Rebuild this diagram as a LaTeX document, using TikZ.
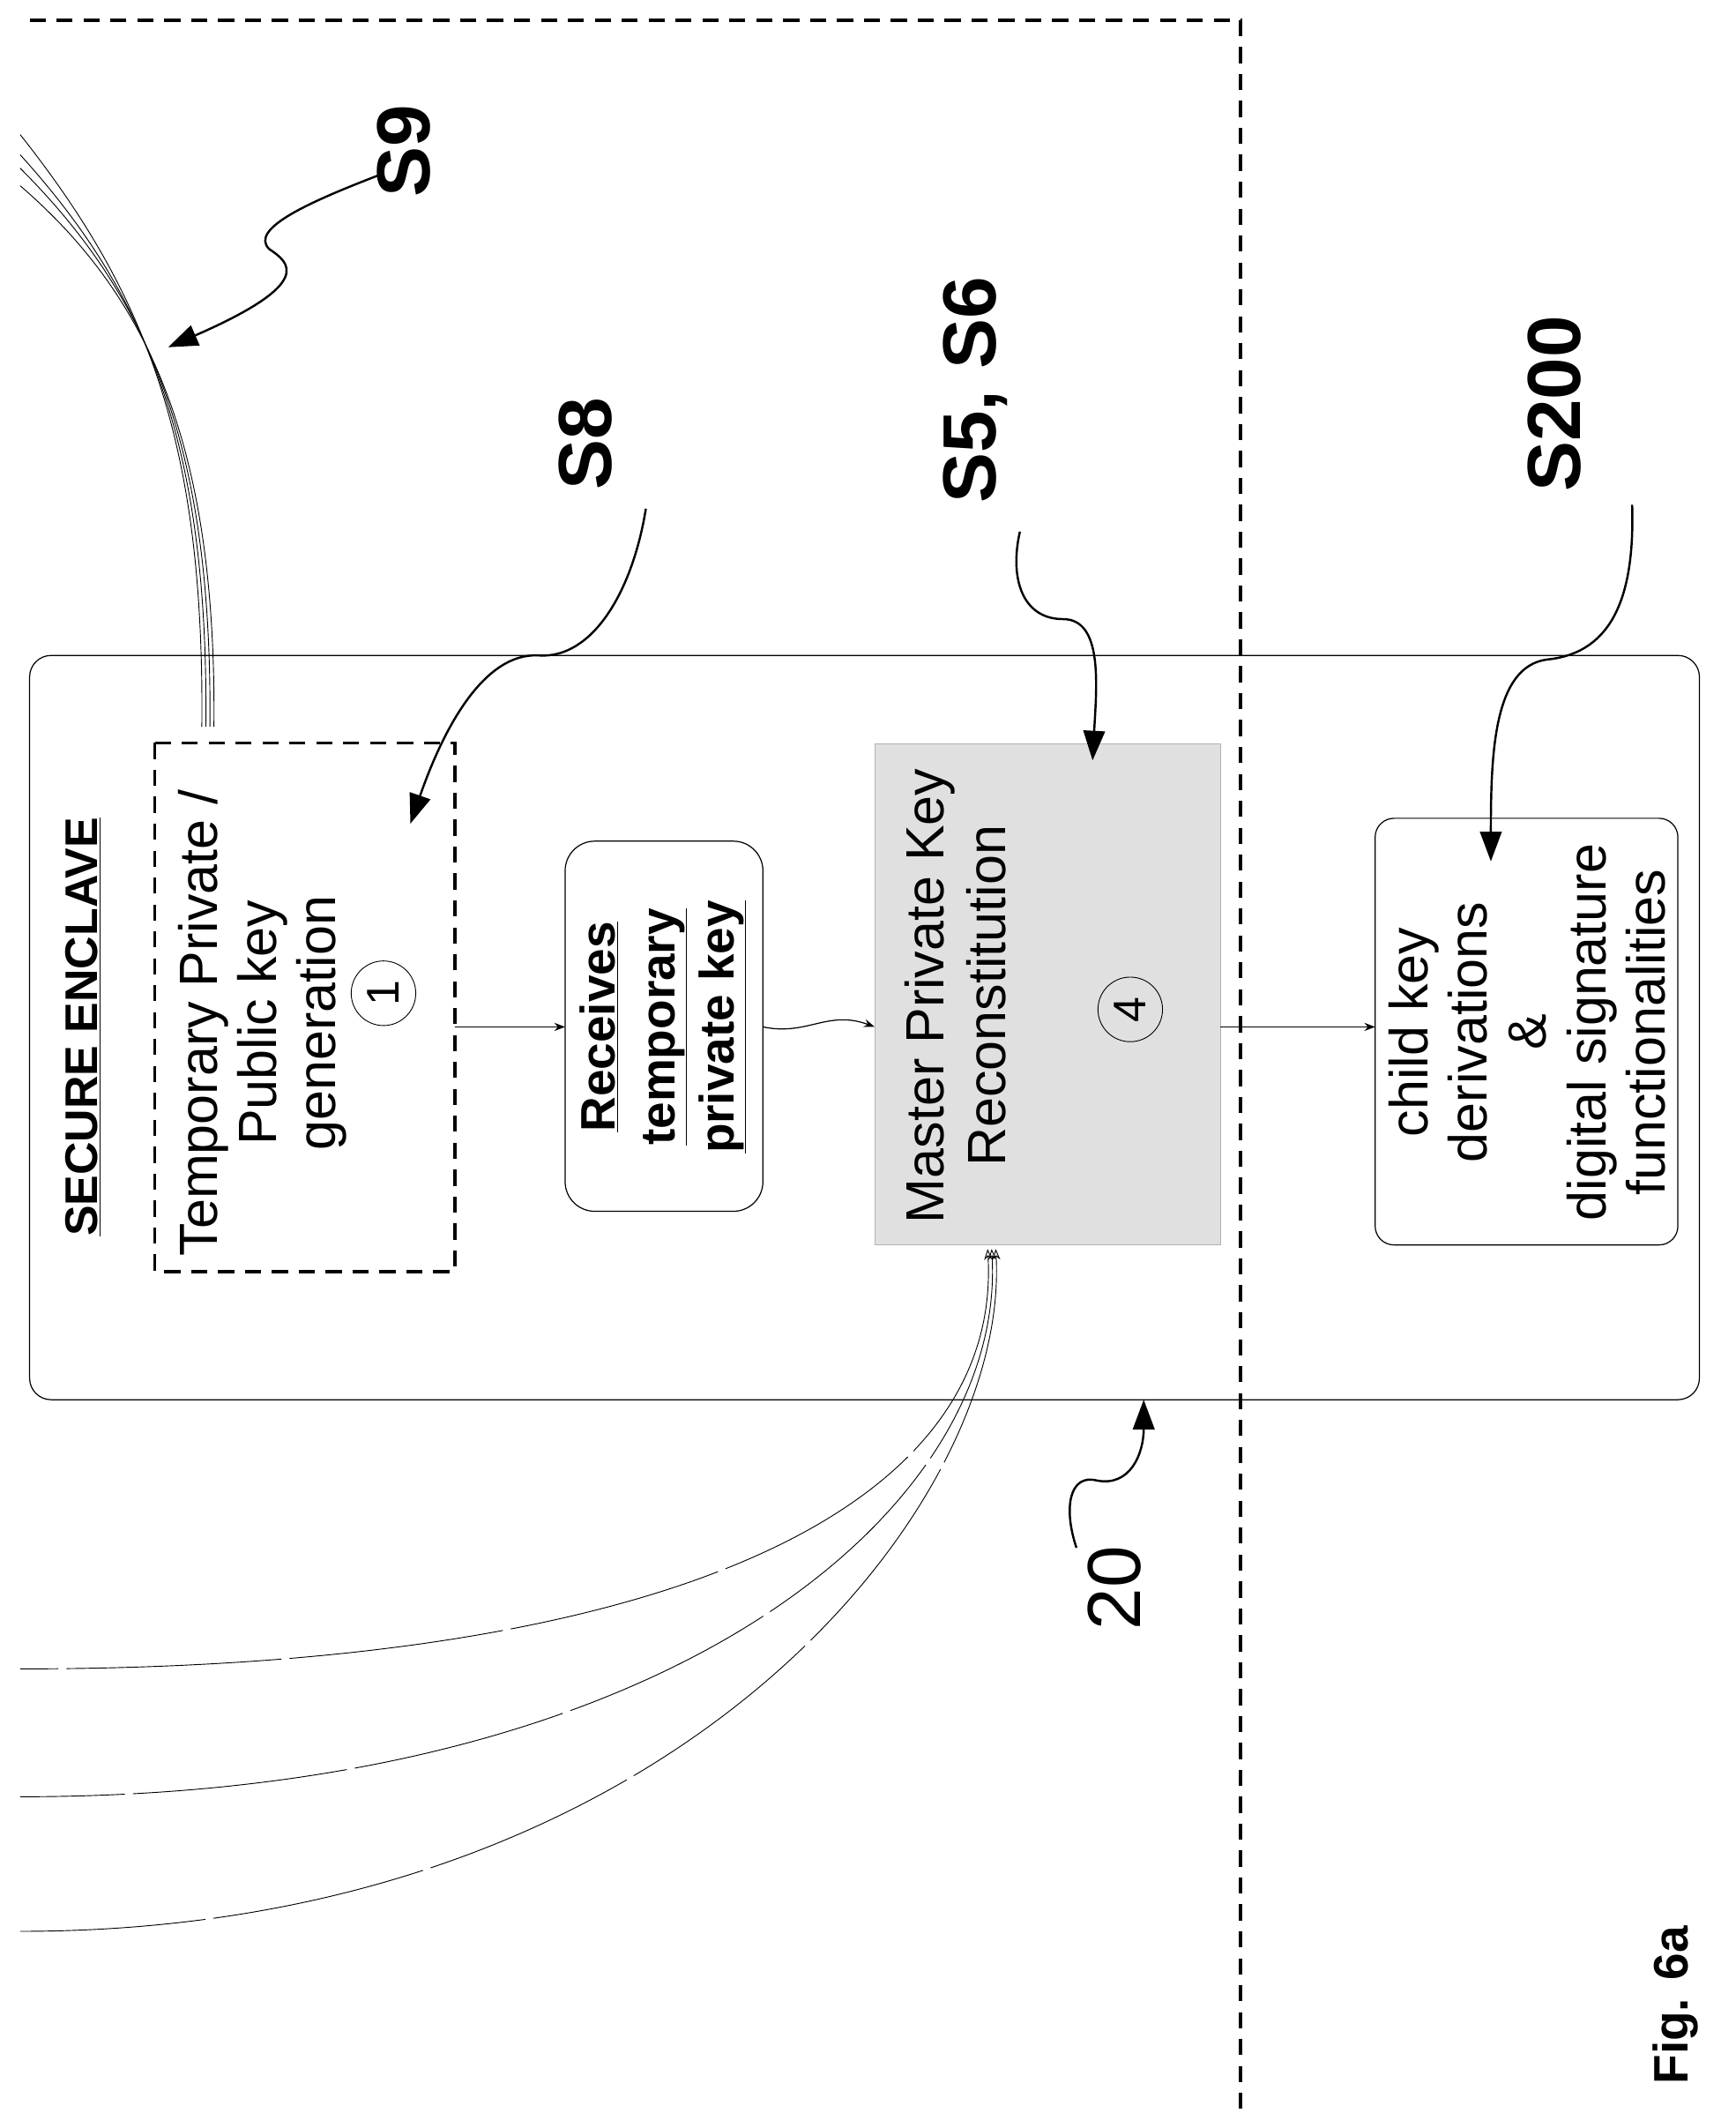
\documentclass[tikz,border=0pt]{standalone}
\usepackage{fontspec}
\setmainfont{Liberation Sans}
\usetikzlibrary{arrows.meta}
\begin{document}
\begin{tikzpicture}[x=1pt,y=-1pt,
  txt/.style={font=\fontsize{40}{44}\selectfont,rotate=90,align=center,inner sep=0},
  lbl/.style={font=\fontsize{56}{60}\selectfont\bfseries,rotate=90,inner sep=0},
  dsh/.style={line width=2.5pt,dash pattern=on 12pt off 8pt},
  wv/.style={line width=1.6pt,-{Triangle[length=22pt,width=16pt]}},
  ar/.style={line width=0.8pt,-{Stealth[length=8pt]}},
  thin/.style={line width=0.6pt}]
\useasboundingbox (0,0) rectangle (1290,1570);
\draw[dsh] (22,15) -- (922,15) -- (922,1580) -- (22,1580);
\draw[thin,line width=0.8pt,rounded corners=16pt] (22,487) rectangle (1263,1040);
\node[txt,font=\fontsize{34}{38}\selectfont\bfseries] (se) at (62,763) {\underline{SECURE ENCLAVE}};
\draw[dsh] (115,552) rectangle (338,945);
\node[txt] (t1) at (195,760) {Temporary Private /\\Public key\\generation};
\node[draw,circle,thin,minimum size=48pt,inner sep=0,font=\fontsize{34}{34}\selectfont,rotate=90] (c1) at (285,738) {1};
\draw[thin,line width=0.8pt,rounded corners=22pt] (420,625) rectangle (567,900);
\node[txt,font=\fontsize{36}{44}\selectfont\bfseries] (rk) at (493,763) {\underline{Receives}\\\underline{temporary}\\\underline{private key}};
\draw[thin,fill=black!12,draw=black!30] (650,553) rectangle (907,925);
\node[txt,font=\fontsize{40}{46}\selectfont] (mk) at (710,740) {Master Private Key\\Reconstitution};
\node[draw,circle,thin,minimum size=48pt,inner sep=0,font=\fontsize{34}{34}\selectfont,rotate=90] (c4) at (840,750) {4};
\draw[thin,line width=0.8pt,rounded corners=14pt] (1022,608) rectangle (1247,925);
\node[txt] (ck) at (1135,767) {child key\\derivations\\\&\\digital signature\\functionalities};
\coordinate (a1) at (338,763); \coordinate (a2) at (420,763);
\coordinate (b1) at (567,763); \coordinate (b2) at (650,763);
\coordinate (d1) at (907,763); \coordinate (d2) at (1022,763);
\draw[ar] (a1) -- (a2);
\draw[ar] (b1) .. controls (600,770) and (615,750) .. (b2);
\draw[ar] (d1) -- (d2);
\node[lbl] (s9) at (300,112) {S9};
\node[lbl] (s8) at (435,330) {S8};
\node[lbl] (s56) at (725,290) {S5, S6};
\node[lbl] (s200) at (1155,300) {S200};
\node[lbl,font=\fontsize{56}{60}\selectfont] (n20) at (828,1180) {20};
\node[lbl,font=\fontsize{36}{40}\selectfont\bfseries] (fig) at (1245,1490) {Fig. 6a};
\draw[wv] (282,130) .. controls (230,150) and (185,170) .. (200,185) .. controls (215,195) and (235,210) .. (125,258);
\draw[wv] (480,378) .. controls (470,440) and (440,490) .. (400,487) .. controls (360,485) and (330,540) .. (305,612);
\draw[wv] (758,395) .. controls (750,430) and (760,460) .. (790,460) .. controls (820,460) and (815,510) .. (812,565);
\draw[wv] (1213,375) .. controls (1215,440) and (1200,485) .. (1150,490) .. controls (1110,495) and (1108,560) .. (1108,640);
\draw[wv] (800,1150) .. controls (790,1120) and (795,1095) .. (815,1100) .. controls (840,1105) and (850,1080) .. (850,1040);
\foreach \d/\e in {0/100,3/115,6/125,9/138} {
  \draw[thin] (150+\d,540) .. controls (152+\d,330) and (110,220) .. (15,\e);
}
\foreach \d/\e in {0/1240,3/1335,6/1435} {
  \draw[thin,dash pattern=on 160pt off 6pt,{Stealth[length=8pt,open]}-] (734+\d,928) .. controls (745+\d,1120) and (500,\e) .. (15,\e);
}
\end{tikzpicture}
\end{document}
